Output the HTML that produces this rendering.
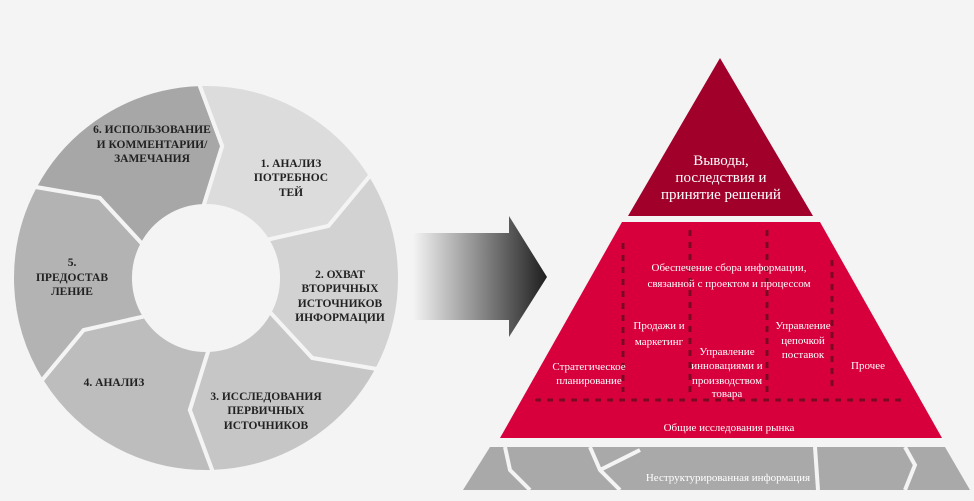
<!DOCTYPE html>
<html><head><meta charset="utf-8"><style>
html,body{margin:0;padding:0;background:#f4f4f4;}
svg{display:block;}
</style></head><body>
<svg width="974" height="501" viewBox="0 0 974 501" xmlns="http://www.w3.org/2000/svg" font-family="'Liberation Serif','Noto Serif CJK SC',serif">
<rect width="974" height="501" fill="#f4f4f4"/>
<defs>
<linearGradient id="ag" x1="0" x2="1" y1="0" y2="0">
<stop offset="0" stop-color="#f4f4f4"/><stop offset="0.5" stop-color="#8a8a8a"/><stop offset="1" stop-color="#1e1e1e"/>
</linearGradient>
</defs>
<g stroke="#f4f4f4" stroke-width="4" stroke-linejoin="miter">
<path d="M34.7,186.9 A194,194 0 0 1 199.2,84.1 L222.2,146 L203.5,206 A72,72 0 0 0 142.4,244.2 L99.8,198 Z" fill="#a7a7a7"/>
<path d="M199.2,84.1 A194,194 0 0 1 370.5,175.2 L328.4,226 L267.1,239.8 A72,72 0 0 0 203.5,206 L222.2,146 Z" fill="#dcdcdc"/>
<path d="M370.5,175.2 A194,194 0 0 1 377.3,369.1 L312.2,358 L269.6,311.8 A72,72 0 0 0 267.1,239.8 L328.4,226 Z" fill="#d2d2d2"/>
<path d="M377.3,369.1 A194,194 0 0 1 212.8,471.9 L189.8,410 L208.5,350 A72,72 0 0 0 269.6,311.8 L312.2,358 Z" fill="#c6c6c6"/>
<path d="M212.8,471.9 A194,194 0 0 1 41.5,380.8 L83.6,330 L144.9,316.2 A72,72 0 0 0 208.5,350 L189.8,410 Z" fill="#bdbdbd"/>
<path d="M41.5,380.8 A194,194 0 0 1 34.7,186.9 L99.8,198 L142.4,244.2 A72,72 0 0 0 144.9,316.2 L83.6,330 Z" fill="#b3b3b3"/>
</g>
<g font-size="11.5" fill="#222" text-anchor="middle" font-weight="bold">
<text x="152" y="133">6. ИСПОЛЬЗОВАНИЕ</text>
<text x="152" y="148">И КОММЕНТАРИИ/</text>
<text x="152" y="162">ЗАМЕЧАНИЯ</text>
<text x="291" y="167">1. АНАЛИЗ</text>
<text x="291" y="181">ПОТРЕБНОС</text>
<text x="291" y="196">ТЕЙ</text>
<text x="340" y="278">2. ОХВАТ</text>
<text x="340" y="292">ВТОРИЧНЫХ</text>
<text x="340" y="307">ИСТОЧНИКОВ</text>
<text x="340" y="321">ИНФОРМАЦИИ</text>
<text x="266" y="400">3. ИССЛЕДОВАНИЯ</text>
<text x="266" y="414">ПЕРВИЧНЫХ</text>
<text x="266" y="429">ИСТОЧНИКОВ</text>
<text x="114" y="386">4. АНАЛИЗ</text>
<text x="72" y="266">5.</text>
<text x="72" y="281">ПРЕДОСТАВ</text>
<text x="72" y="295">ЛЕНИЕ</text>
</g>
<polygon points="413,233 509,233 509,216 547,277 509,337 509,320 413,320" fill="url(#ag)"/>
<polygon points="720,58 813,216 628,216" fill="#a0002a"/>
<polygon points="622,222 820,222 942,438 500,438" fill="#d8003c"/>
<g stroke="#7a0a22" stroke-width="3" stroke-dasharray="6,6" fill="none">
<line x1="623" y1="243" x2="623" y2="392"/>
<line x1="690" y1="230" x2="690" y2="392"/>
<line x1="767" y1="230" x2="767" y2="392"/>
<line x1="832" y1="260" x2="832" y2="392"/>
<line x1="535" y1="400" x2="906" y2="400"/>
</g>
<polygon points="490,447 945,447 970,490 463,490" fill="#a9a9a9"/>
<g stroke="#f4f4f4" stroke-width="4" fill="none">
<polyline points="505,447 510,470 530,490"/>
<polyline points="590,447 600,470 620,490"/>
<polyline points="600,470 640,450"/>
<polyline points="815,447 818,490"/>
<polyline points="905,447 915,465 905,490"/>
</g>
<g fill="#fff" text-anchor="middle">
<text x="721" y="165" font-size="15">Выводы,</text>
<text x="721" y="182" font-size="15">последствия и</text>
<text x="721" y="199" font-size="15">принятие решений</text>
<g font-size="11">
<text x="729" y="271">Обеспечение сбора информации,</text>
<text x="729" y="287">связанной с проектом и процессом</text>
<text x="659" y="329">Продажи и</text>
<text x="659" y="345">маркетинг</text>
<text x="803" y="329">Управление</text>
<text x="803" y="344">цепочкой</text>
<text x="803" y="358">поставок</text>
<text x="727" y="355">Управление</text>
<text x="727" y="369">инновациями и</text>
<text x="727" y="384">производством</text>
<text x="727" y="397">товара</text>
<text x="589" y="370">Стратегическое</text>
<text x="589" y="384">планирование</text>
<text x="868" y="369">Прочее</text>
<text x="729" y="431">Общие исследования рынка</text>
<text x="728" y="481">Неструктурированная информация</text>
</g>
</g>
</svg>
</body></html>
